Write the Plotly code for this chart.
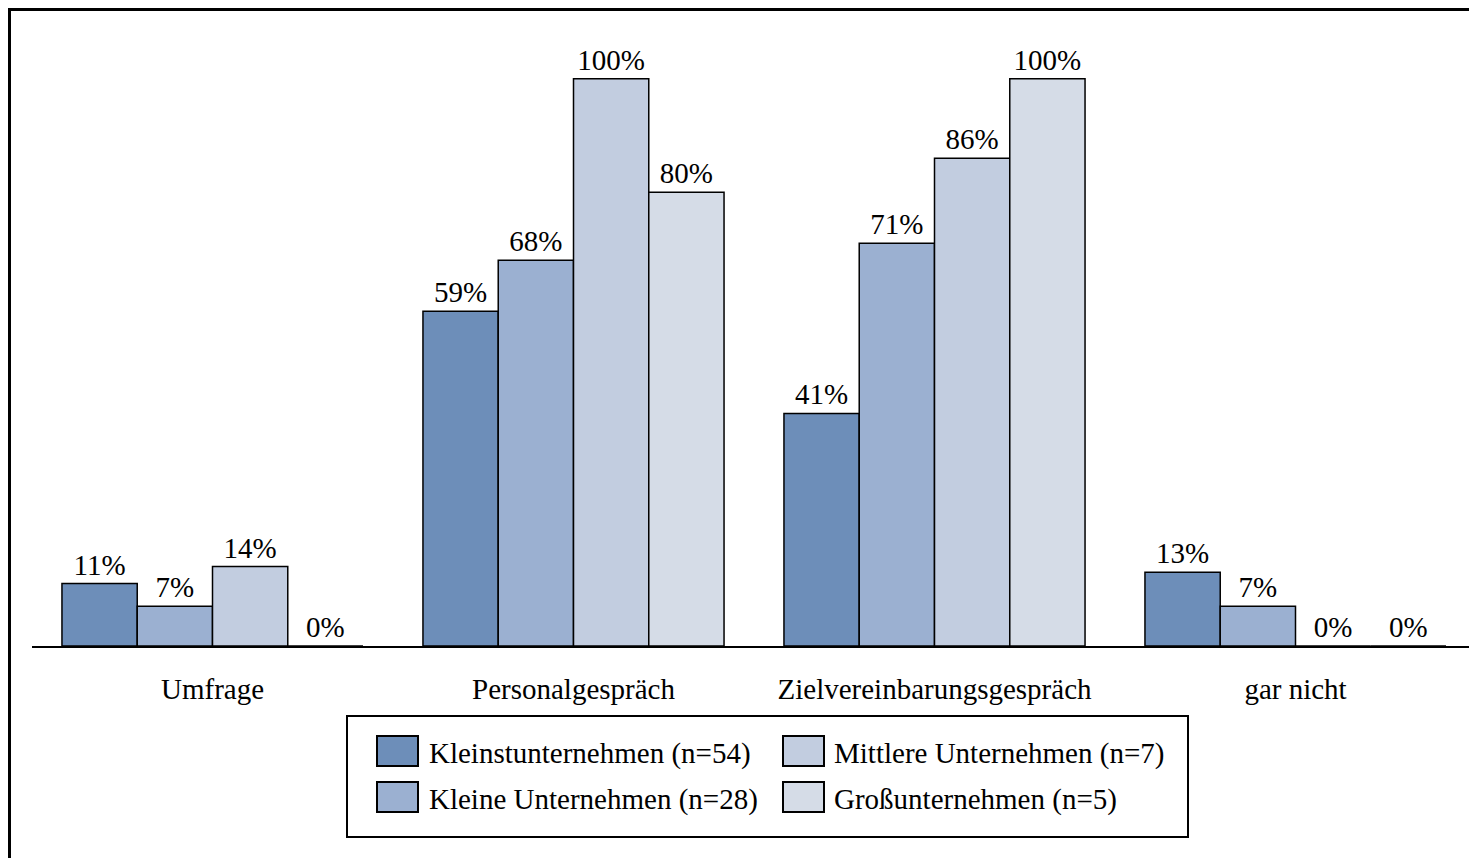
import plotly.graph_objects as go

categories = ["Umfrage", "Personalgespräch", "Zielvereinbarungsgespräch", "gar nicht"]
series_names = ["Kleinstunternehmen (n=54)", "Kleine Unternehmen (n=28)",
                "Mittlere Unternehmen (n=7)", "Großunternehmen (n=5)"]
kleinst = [11, 59, 41, 13]
kleine = [7, 68, 71, 7]
mittlere = [14, 100, 86, 0]
gross = [0, 80, 100, 0]
colors = ["#6d8eb9", "#9bb0d1", "#c2cde0", "#d5dce7"]

FONT = "Liberation Serif, Times New Roman, serif"
fig = go.Figure()
for name, vals, col in zip(series_names, [kleinst, kleine, mittlere, gross], colors):
    fig.add_trace(go.Bar(
        x=categories, y=vals, name=name,
        marker=dict(color=col, line=dict(color="black", width=1.5)),
        text=[f"{v}%" for v in vals], textposition="outside",
        textfont=dict(family=FONT, size=29, color="black"),
        cliponaxis=False, showlegend=False,
    ))

OFF = 8  # page body margin
W, H = 1477 - OFF, 858 - OFF
L, R, T, B = 24, 1, 14, 212
pw, ph = W - L - R, H - T - B

def px(x):
    return (x - OFF - L) / pw

def py(y):
    return (H - B - (y - OFF)) / ph

shapes = [
    dict(type="rect", xref="paper", yref="paper", x0=px(9.5), x1=px(1500), y0=py(900), y1=py(9.5),
         line=dict(color="black", width=3), fillcolor="rgba(0,0,0,0)", layer="below"),
    dict(type="rect", xref="paper", yref="paper", x0=px(347), x1=px(1188), y0=py(837), y1=py(716),
         line=dict(color="black", width=2), fillcolor="white"),
]
annotations = []
legend_pos = [(377, 736, 430, 753), (377, 782, 430, 799), (783, 736, 835, 753), (783, 782, 835, 799)]
for (sx, sy, tx, ty), name, col in zip(legend_pos, series_names, colors):
    shapes.append(dict(type="rect", xref="paper", yref="paper", x0=px(sx), x1=px(sx + 41),
                       y0=py(sy + 30), y1=py(sy), fillcolor=col, line=dict(color="black", width=2)))
    annotations.append(dict(xref="paper", yref="paper", x=px(tx - 3), y=py(ty), text=name,
                            showarrow=False, xanchor="left", yanchor="middle",
                            font=dict(family=FONT, size=29, color="black")))

fig.update_layout(
    width=W, height=H, margin=dict(l=L, r=R, t=T, b=B),
    barmode="group", bargap=0.166, bargroupgap=0,
    plot_bgcolor="white", paper_bgcolor="white",
    font=dict(family=FONT, size=29, color="black"),
    xaxis=dict(range=[-0.5, 3.5], showline=True, linecolor="black", linewidth=1.5,
               ticks="", ticklabelstandoff=16, showgrid=False,
               tickfont=dict(family=FONT, size=29, color="black")),
    yaxis=dict(range=[0, 110], visible=False, showgrid=False, zeroline=False),
    shapes=shapes, annotations=annotations, showlegend=False,
)
fig.write_html("out.html")
